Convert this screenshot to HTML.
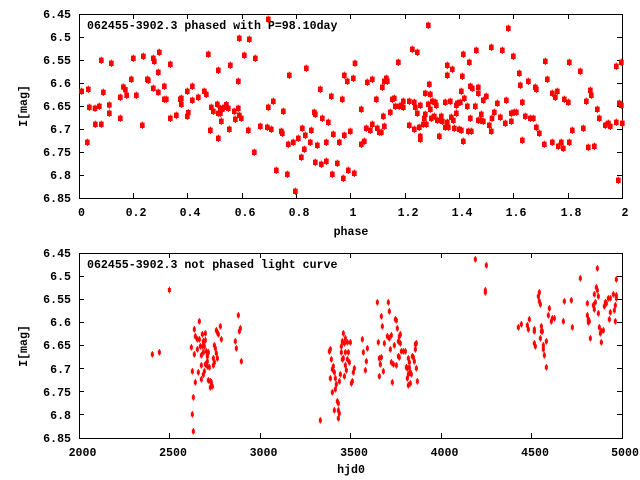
<!DOCTYPE html>
<html><head><meta charset="utf-8">
<style>
html,body{margin:0;padding:0;background:#fff;}
svg{display:block;}
text{font-family:"Liberation Mono",monospace;font-weight:bold;font-size:11.6px;fill:#000;}
</style></head>
<body>
<svg width="640" height="480" viewBox="0 0 640 480" xmlns="http://www.w3.org/2000/svg">
<defs>
<path id="mt" d="M-7,-8h14v16h-14z M-1.5,-11h3v22h-3z" fill="#ff0000"/>
<path id="mb" d="M-4.5,-6h9v12h-9z M-1.5,-10h3v20h-3z" fill="#ff0000"/>
</defs>
<rect width="640" height="480" fill="#fff"/>

<!-- ===== TOP PLOT FRAME ===== -->
<g stroke="#000" stroke-width="1" fill="none" shape-rendering="crispEdges">
<rect x="79.5" y="14.5" width="543" height="184"/>
<path d="M79,37.5h5M79,60.5h5M79,83.5h5M79,106.5h5M79,129.5h5M79,152.5h5M79,175.5h5
M622,37.5h-5M622,60.5h-5M622,83.5h-5M622,106.5h-5M622,129.5h-5M622,152.5h-5M622,175.5h-5
M133.5,198v-5M187.5,198v-5M242.5,198v-5M296.5,198v-5M350.5,198v-5M405.5,198v-5M459.5,198v-5M513.5,198v-5M568.5,198v-5
M133.5,14v5M187.5,14v5M242.5,14v5M296.5,14v5M350.5,14v5M405.5,14v5M459.5,14v5M513.5,14v5M568.5,14v5"/>
</g>
<g text-anchor="end">
<text x="71" y="18">6.45</text>
<text x="71" y="41">6.5</text>
<text x="71" y="64">6.55</text>
<text x="71" y="87">6.6</text>
<text x="71" y="110">6.65</text>
<text x="71" y="133">6.7</text>
<text x="71" y="156">6.75</text>
<text x="71" y="179">6.8</text>
<text x="71" y="202">6.85</text>
</g>
<g text-anchor="middle">
<text x="81.5" y="216">0</text>
<text x="136" y="216">0.2</text>
<text x="190" y="216">0.4</text>
<text x="245" y="216">0.6</text>
<text x="299" y="216">0.8</text>
<text x="353" y="216">1</text>
<text x="408" y="216">1.2</text>
<text x="462" y="216">1.4</text>
<text x="516" y="216">1.6</text>
<text x="571" y="216">1.8</text>
<text x="625" y="216">2</text>
<text x="351" y="235">phase</text>
<text transform="translate(27,106) rotate(-90)">I[mag]</text>
</g>
<text x="87" y="29">062455-3902.3 phased with P=98.10day</text>

<!-- top plot points -->
<g transform="translate(79,14) scale(0.33333)">
<use href="#mt" x="8" y="232"/><use href="#mt" x="28" y="226"/><use href="#mt" x="25" y="385"/><use href="#mt" x="31" y="280"/><use href="#mt" x="48" y="283"/><use href="#mt" x="49" y="331"/><use href="#mt" x="61" y="277"/><use href="#mt" x="67" y="331"/><use href="#mt" x="67" y="139"/><use href="#mt" x="73" y="235"/><use href="#mt" x="91" y="273"/><use href="#mt" x="91" y="298"/><use href="#mt" x="97" y="148"/><use href="#mt" x="124" y="250"/><use href="#mt" x="124" y="313"/><use href="#mt" x="133" y="219"/><use href="#mt" x="139" y="227"/><use href="#mt" x="143" y="244"/><use href="#mt" x="157" y="196"/><use href="#mt" x="163" y="133"/><use href="#mt" x="172" y="244"/><use href="#mt" x="190" y="334"/><use href="#mt" x="193" y="127"/><use href="#mt" x="205" y="196"/><use href="#mt" x="208" y="199"/><use href="#mt" x="223" y="133"/><use href="#mt" x="226" y="142"/><use href="#mt" x="223" y="223"/><use href="#mt" x="238" y="175"/><use href="#mt" x="238" y="235"/><use href="#mt" x="241" y="115"/><use href="#mt" x="256" y="217"/><use href="#mt" x="256" y="256"/><use href="#mt" x="262" y="256"/><use href="#mt" x="274" y="151"/><use href="#mt" x="274" y="313"/><use href="#mt" x="292" y="304"/><use href="#mt" x="304" y="256"/><use href="#mt" x="307" y="253"/><use href="#mt" x="307" y="271"/><use href="#mt" x="325" y="232"/><use href="#mt" x="325" y="307"/><use href="#mt" x="328" y="296"/><use href="#mt" x="340" y="259"/><use href="#mt" x="340" y="217"/><use href="#mt" x="358" y="250"/><use href="#mt" x="376" y="232"/><use href="#mt" x="382" y="241"/><use href="#mt" x="388" y="121"/><use href="#mt" x="394" y="349"/><use href="#mt" x="397" y="280"/><use href="#mt" x="403" y="292"/><use href="#mt" x="415" y="271"/><use href="#mt" x="418" y="373"/><use href="#mt" x="418" y="169"/><use href="#mt" x="418" y="298"/>
</g>
<g transform="translate(215,14) scale(0.33333)">
<use href="#mt" x="16" y="283"/><use href="#mt" x="16" y="298"/><use href="#mt" x="19" y="322"/><use href="#mt" x="22" y="286"/><use href="#mt" x="28" y="280"/><use href="#mt" x="34" y="272"/><use href="#mt" x="40" y="283"/><use href="#mt" x="43" y="346"/><use href="#mt" x="46" y="154"/><use href="#mt" x="58" y="292"/><use href="#mt" x="61" y="316"/><use href="#mt" x="70" y="202"/><use href="#mt" x="70" y="283"/><use href="#mt" x="73" y="73"/><use href="#mt" x="73" y="304"/><use href="#mt" x="79" y="313"/><use href="#mt" x="88" y="124"/><use href="#mt" x="100" y="349"/><use href="#mt" x="103" y="76"/><use href="#mt" x="118" y="415"/><use href="#mt" x="121" y="133"/><use href="#mt" x="136" y="337"/><use href="#mt" x="157" y="340"/><use href="#mt" x="160" y="16"/><use href="#mt" x="160" y="280"/><use href="#mt" x="169" y="346"/><use href="#mt" x="175" y="262"/><use href="#mt" x="184" y="469"/><use href="#mt" x="199" y="352"/><use href="#mt" x="202" y="358"/><use href="#mt" x="205" y="292"/><use href="#mt" x="217" y="481"/><use href="#mt" x="220" y="391"/><use href="#mt" x="223" y="184"/><use href="#mt" x="235" y="385"/><use href="#mt" x="241" y="532"/><use href="#mt" x="250" y="373"/><use href="#mt" x="259" y="430"/><use href="#mt" x="262" y="343"/><use href="#mt" x="268" y="406"/><use href="#mt" x="271" y="364"/><use href="#mt" x="274" y="163"/><use href="#mt" x="286" y="385"/><use href="#mt" x="289" y="349"/><use href="#mt" x="298" y="295"/><use href="#mt" x="301" y="301"/><use href="#mt" x="301" y="445"/><use href="#mt" x="307" y="394"/><use href="#mt" x="316" y="226"/><use href="#mt" x="319" y="451"/><use href="#mt" x="322" y="313"/><use href="#mt" x="334" y="385"/><use href="#mt" x="334" y="442"/><use href="#mt" x="340" y="325"/><use href="#mt" x="349" y="247"/><use href="#mt" x="352" y="481"/><use href="#mt" x="355" y="361"/><use href="#mt" x="367" y="448"/><use href="#mt" x="373" y="385"/><use href="#mt" x="382" y="256"/><use href="#mt" x="385" y="493"/><use href="#mt" x="388" y="184"/><use href="#mt" x="388" y="364"/><use href="#mt" x="397" y="202"/><use href="#mt" x="400" y="469"/><use href="#mt" x="406" y="352"/><use href="#mt" x="415" y="193"/><use href="#mt" x="418" y="478"/><use href="#mt" x="420" y="148"/>
</g>
<g transform="translate(352,14) scale(0.33333)">
<use href="#mt" x="28" y="286"/><use href="#mt" x="28" y="391"/><use href="#mt" x="37" y="382"/><use href="#mt" x="43" y="343"/><use href="#mt" x="46" y="205"/><use href="#mt" x="55" y="349"/><use href="#mt" x="61" y="196"/><use href="#mt" x="61" y="331"/><use href="#mt" x="73" y="256"/><use href="#mt" x="76" y="343"/><use href="#mt" x="82" y="355"/><use href="#mt" x="88" y="355"/><use href="#mt" x="91" y="220"/><use href="#mt" x="94" y="307"/><use href="#mt" x="97" y="337"/><use href="#mt" x="97" y="202"/><use href="#mt" x="103" y="193"/><use href="#mt" x="106" y="202"/><use href="#mt" x="115" y="295"/><use href="#mt" x="121" y="256"/><use href="#mt" x="127" y="253"/><use href="#mt" x="130" y="277"/><use href="#mt" x="139" y="145"/><use href="#mt" x="142" y="277"/><use href="#mt" x="148" y="274"/><use href="#mt" x="154" y="262"/><use href="#mt" x="154" y="280"/><use href="#mt" x="172" y="262"/><use href="#mt" x="172" y="334"/><use href="#mt" x="181" y="106"/><use href="#mt" x="187" y="346"/><use href="#mt" x="187" y="265"/><use href="#mt" x="190" y="280"/><use href="#mt" x="196" y="115"/><use href="#mt" x="196" y="298"/><use href="#mt" x="202" y="340"/><use href="#mt" x="205" y="274"/><use href="#mt" x="205" y="367"/><use href="#mt" x="205" y="376"/><use href="#mt" x="214" y="331"/><use href="#mt" x="217" y="313"/><use href="#mt" x="220" y="301"/><use href="#mt" x="220" y="238"/><use href="#mt" x="223" y="331"/><use href="#mt" x="229" y="34"/><use href="#mt" x="229" y="271"/><use href="#mt" x="232" y="211"/><use href="#mt" x="235" y="241"/><use href="#mt" x="235" y="286"/><use href="#mt" x="238" y="313"/><use href="#mt" x="241" y="262"/><use href="#mt" x="247" y="307"/><use href="#mt" x="250" y="265"/><use href="#mt" x="253" y="274"/><use href="#mt" x="256" y="319"/><use href="#mt" x="262" y="367"/><use href="#mt" x="265" y="319"/><use href="#mt" x="268" y="307"/><use href="#mt" x="271" y="322"/><use href="#mt" x="280" y="265"/><use href="#mt" x="280" y="340"/><use href="#mt" x="286" y="154"/><use href="#mt" x="286" y="184"/><use href="#mt" x="286" y="325"/><use href="#mt" x="289" y="340"/><use href="#mt" x="295" y="262"/><use href="#mt" x="298" y="310"/><use href="#mt" x="301" y="166"/><use href="#mt" x="304" y="319"/><use href="#mt" x="307" y="343"/><use href="#mt" x="313" y="298"/><use href="#mt" x="313" y="274"/><use href="#mt" x="316" y="268"/><use href="#mt" x="322" y="346"/><use href="#mt" x="325" y="265"/><use href="#mt" x="328" y="232"/><use href="#mt" x="328" y="349"/><use href="#mt" x="334" y="382"/><use href="#mt" x="334" y="121"/><use href="#mt" x="331" y="187"/><use href="#mt" x="337" y="253"/><use href="#mt" x="346" y="277"/><use href="#mt" x="349" y="352"/><use href="#mt" x="352" y="145"/><use href="#mt" x="355" y="313"/><use href="#mt" x="355" y="217"/><use href="#mt" x="358" y="352"/><use href="#mt" x="361" y="223"/><use href="#mt" x="370" y="277"/><use href="#mt" x="373" y="109"/><use href="#mt" x="379" y="220"/><use href="#mt" x="379" y="238"/><use href="#mt" x="379" y="319"/><use href="#mt" x="385" y="319"/><use href="#mt" x="388" y="301"/><use href="#mt" x="394" y="322"/><use href="#mt" x="394" y="259"/><use href="#mt" x="403" y="247"/><use href="#mt" x="412" y="334"/><use href="#mt" x="418" y="100"/><use href="#mt" x="418" y="352"/><use href="#mt" x="420" y="313"/>
</g>
<g transform="translate(488,14) scale(0.33333)">
<use href="#mt" x="19" y="295"/><use href="#mt" x="28" y="268"/><use href="#mt" x="37" y="310"/><use href="#mt" x="43" y="109"/><use href="#mt" x="52" y="328"/><use href="#mt" x="55" y="259"/><use href="#mt" x="61" y="43"/><use href="#mt" x="70" y="298"/><use href="#mt" x="70" y="322"/><use href="#mt" x="76" y="127"/><use href="#mt" x="79" y="295"/><use href="#mt" x="85" y="295"/><use href="#mt" x="94" y="178"/><use href="#mt" x="97" y="214"/><use href="#mt" x="103" y="265"/><use href="#mt" x="103" y="379"/><use href="#mt" x="112" y="307"/><use href="#mt" x="121" y="202"/><use href="#mt" x="127" y="313"/><use href="#mt" x="136" y="313"/><use href="#mt" x="142" y="220"/><use href="#mt" x="145" y="340"/><use href="#mt" x="145" y="226"/><use href="#mt" x="154" y="358"/><use href="#mt" x="169" y="391"/><use href="#mt" x="172" y="142"/><use href="#mt" x="178" y="196"/><use href="#mt" x="193" y="238"/><use href="#mt" x="193" y="385"/><use href="#mt" x="202" y="250"/><use href="#mt" x="208" y="232"/><use href="#mt" x="211" y="397"/><use href="#mt" x="220" y="385"/><use href="#mt" x="226" y="403"/><use href="#mt" x="229" y="256"/><use href="#mt" x="241" y="265"/><use href="#mt" x="244" y="145"/><use href="#mt" x="244" y="385"/><use href="#mt" x="253" y="349"/><use href="#mt" x="277" y="172"/><use href="#mt" x="286" y="343"/><use href="#mt" x="295" y="262"/><use href="#mt" x="301" y="400"/><use href="#mt" x="307" y="229"/><use href="#mt" x="310" y="244"/><use href="#mt" x="319" y="397"/><use href="#mt" x="328" y="286"/><use href="#mt" x="334" y="313"/><use href="#mt" x="352" y="334"/><use href="#mt" x="361" y="328"/><use href="#mt" x="367" y="337"/><use href="#mt" x="385" y="325"/><use href="#mt" x="385" y="157"/><use href="#mt" x="391" y="499"/><use href="#mt" x="394" y="268"/><use href="#mt" x="400" y="145"/><use href="#mt" x="400" y="274"/><use href="#mt" x="403" y="328"/>
</g>

<!-- ===== BOTTOM PLOT FRAME ===== -->
<g stroke="#000" stroke-width="1" fill="none" shape-rendering="crispEdges">
<rect x="79.5" y="253.5" width="543" height="185"/>
<path d="M79,276.5h5M79,299.5h5M79,322.5h5M79,345.5h5M79,368.5h5M79,391.5h5M79,414.5h5
M622,276.5h-5M622,299.5h-5M622,322.5h-5M622,345.5h-5M622,368.5h-5M622,391.5h-5M622,414.5h-5
M169.5,438v-5M260.5,438v-5M350.5,438v-5M441.5,438v-5M531.5,438v-5
M169.5,253v5M260.5,253v5M350.5,253v5M441.5,253v5M531.5,253v5"/>
</g>
<g text-anchor="end">
<text x="71" y="257">6.45</text>
<text x="71" y="280">6.5</text>
<text x="71" y="303">6.55</text>
<text x="71" y="326">6.6</text>
<text x="71" y="349">6.65</text>
<text x="71" y="373">6.7</text>
<text x="71" y="396">6.75</text>
<text x="71" y="419">6.8</text>
<text x="71" y="442">6.85</text>
</g>
<g text-anchor="middle">
<text x="82.5" y="456">2000</text>
<text x="173" y="456">2500</text>
<text x="263.5" y="456">3000</text>
<text x="354" y="456">3500</text>
<text x="444.5" y="456">4000</text>
<text x="535" y="456">4500</text>
<text x="625" y="456">5000</text>
<text x="351" y="473">hjd0</text>
<text transform="translate(27,346) rotate(-90)">I[mag]</text>
</g>
<text x="87" y="268">062455-3902.3 not phased light curve</text>

<!-- bottom plot points -->
<g transform="translate(145,253) scale(0.33333)">
<use href="#mb" x="73" y="111"/><use href="#mb" x="22" y="304"/><use href="#mb" x="43" y="298"/><use href="#mb" x="139" y="283"/><use href="#mb" x="142" y="355"/><use href="#mb" x="145" y="433"/><use href="#mb" x="142" y="484"/><use href="#mb" x="145" y="535"/><use href="#mb" x="148" y="229"/><use href="#mb" x="148" y="304"/><use href="#mb" x="151" y="250"/><use href="#mb" x="151" y="388"/><use href="#mb" x="157" y="259"/><use href="#mb" x="157" y="289"/><use href="#mb" x="160" y="358"/><use href="#mb" x="163" y="205"/><use href="#mb" x="163" y="259"/><use href="#mb" x="166" y="280"/><use href="#mb" x="169" y="307"/><use href="#mb" x="169" y="379"/><use href="#mb" x="169" y="337"/><use href="#mb" x="172" y="244"/><use href="#mb" x="172" y="280"/><use href="#mb" x="175" y="265"/><use href="#mb" x="175" y="298"/><use href="#mb" x="178" y="280"/><use href="#mb" x="181" y="241"/><use href="#mb" x="181" y="262"/><use href="#mb" x="181" y="334"/><use href="#mb" x="184" y="295"/><use href="#mb" x="187" y="310"/><use href="#mb" x="187" y="325"/><use href="#mb" x="187" y="340"/><use href="#mb" x="190" y="382"/><use href="#mb" x="193" y="343"/><use href="#mb" x="196" y="385"/><use href="#mb" x="196" y="403"/><use href="#mb" x="199" y="388"/><use href="#mb" x="202" y="400"/><use href="#mb" x="205" y="316"/><use href="#mb" x="205" y="337"/><use href="#mb" x="208" y="277"/><use href="#mb" x="208" y="328"/><use href="#mb" x="211" y="286"/><use href="#mb" x="214" y="301"/><use href="#mb" x="214" y="232"/><use href="#mb" x="217" y="238"/><use href="#mb" x="217" y="316"/><use href="#mb" x="220" y="244"/><use href="#mb" x="226" y="220"/><use href="#mb" x="229" y="259"/><use href="#mb" x="271" y="265"/><use href="#mb" x="274" y="286"/><use href="#mb" x="280" y="187"/><use href="#mb" x="283" y="235"/><use href="#mb" x="286" y="226"/><use href="#mb" x="289" y="325"/><use href="#mb" x="178" y="355"/><use href="#mb" x="190" y="298"/><use href="#mb" x="175" y="365"/>
</g>
<g transform="translate(295,253) scale(0.33333)">
<use href="#mb" x="76" y="502"/><use href="#mb" x="103" y="295"/><use href="#mb" x="106" y="289"/><use href="#mb" x="109" y="319"/><use href="#mb" x="106" y="376"/><use href="#mb" x="112" y="349"/><use href="#mb" x="112" y="418"/><use href="#mb" x="115" y="340"/><use href="#mb" x="118" y="358"/><use href="#mb" x="118" y="472"/><use href="#mb" x="121" y="376"/><use href="#mb" x="121" y="409"/><use href="#mb" x="124" y="394"/><use href="#mb" x="127" y="445"/><use href="#mb" x="130" y="451"/><use href="#mb" x="130" y="472"/><use href="#mb" x="130" y="496"/><use href="#mb" x="133" y="481"/><use href="#mb" x="133" y="385"/><use href="#mb" x="136" y="364"/><use href="#mb" x="139" y="280"/><use href="#mb" x="139" y="298"/><use href="#mb" x="142" y="265"/><use href="#mb" x="142" y="319"/><use href="#mb" x="145" y="241"/><use href="#mb" x="145" y="316"/><use href="#mb" x="148" y="271"/><use href="#mb" x="148" y="370"/><use href="#mb" x="151" y="256"/><use href="#mb" x="151" y="298"/><use href="#mb" x="151" y="337"/><use href="#mb" x="154" y="352"/><use href="#mb" x="157" y="319"/><use href="#mb" x="157" y="268"/><use href="#mb" x="160" y="298"/><use href="#mb" x="163" y="328"/><use href="#mb" x="166" y="268"/><use href="#mb" x="169" y="391"/><use href="#mb" x="172" y="385"/><use href="#mb" x="175" y="358"/><use href="#mb" x="178" y="346"/><use href="#mb" x="202" y="259"/><use href="#mb" x="205" y="298"/><use href="#mb" x="211" y="352"/><use href="#mb" x="214" y="325"/><use href="#mb" x="217" y="286"/><use href="#mb" x="247" y="148"/><use href="#mb" x="250" y="268"/><use href="#mb" x="253" y="316"/><use href="#mb" x="253" y="370"/><use href="#mb" x="256" y="334"/><use href="#mb" x="259" y="190"/><use href="#mb" x="259" y="313"/><use href="#mb" x="262" y="220"/><use href="#mb" x="265" y="355"/><use href="#mb" x="268" y="271"/><use href="#mb" x="277" y="250"/><use href="#mb" x="280" y="148"/><use href="#mb" x="283" y="175"/><use href="#mb" x="283" y="256"/><use href="#mb" x="286" y="289"/><use href="#mb" x="289" y="328"/><use href="#mb" x="289" y="247"/><use href="#mb" x="292" y="388"/><use href="#mb" x="295" y="334"/><use href="#mb" x="298" y="277"/><use href="#mb" x="301" y="199"/><use href="#mb" x="304" y="337"/><use href="#mb" x="304" y="202"/><use href="#mb" x="307" y="226"/><use href="#mb" x="310" y="265"/><use href="#mb" x="310" y="310"/><use href="#mb" x="313" y="250"/><use href="#mb" x="313" y="313"/><use href="#mb" x="316" y="244"/><use href="#mb" x="316" y="271"/><use href="#mb" x="319" y="295"/><use href="#mb" x="325" y="295"/><use href="#mb" x="331" y="295"/><use href="#mb" x="334" y="343"/><use href="#mb" x="337" y="346"/><use href="#mb" x="340" y="316"/><use href="#mb" x="340" y="397"/><use href="#mb" x="343" y="328"/><use href="#mb" x="346" y="391"/><use href="#mb" x="346" y="358"/><use href="#mb" x="349" y="364"/><use href="#mb" x="352" y="310"/><use href="#mb" x="355" y="313"/><use href="#mb" x="358" y="325"/><use href="#mb" x="361" y="289"/><use href="#mb" x="361" y="274"/><use href="#mb" x="364" y="271"/><use href="#mb" x="364" y="346"/><use href="#mb" x="367" y="385"/><use href="#mb" x="340" y="364"/><use href="#mb" x="337" y="376"/><use href="#mb" x="343" y="343"/>
</g>
<g transform="translate(462,253) scale(0.33333)">
<use href="#mb" x="40" y="19"/><use href="#mb" x="73" y="37"/><use href="#mb" x="70" y="112"/><use href="#mb" x="70" y="118"/><use href="#mb" x="169" y="223"/><use href="#mb" x="178" y="214"/><use href="#mb" x="196" y="217"/><use href="#mb" x="199" y="229"/><use href="#mb" x="202" y="199"/><use href="#mb" x="217" y="229"/><use href="#mb" x="217" y="235"/><use href="#mb" x="217" y="271"/><use href="#mb" x="220" y="280"/><use href="#mb" x="229" y="130"/><use href="#mb" x="232" y="118"/><use href="#mb" x="232" y="145"/><use href="#mb" x="235" y="154"/><use href="#mb" x="235" y="256"/><use href="#mb" x="238" y="220"/><use href="#mb" x="238" y="235"/><use href="#mb" x="241" y="235"/><use href="#mb" x="244" y="277"/><use href="#mb" x="244" y="289"/><use href="#mb" x="247" y="307"/><use href="#mb" x="253" y="265"/><use href="#mb" x="253" y="343"/><use href="#mb" x="259" y="187"/><use href="#mb" x="262" y="166"/><use href="#mb" x="268" y="205"/><use href="#mb" x="271" y="196"/><use href="#mb" x="277" y="196"/><use href="#mb" x="304" y="205"/><use href="#mb" x="307" y="145"/><use href="#mb" x="328" y="142"/><use href="#mb" x="331" y="223"/><use href="#mb" x="355" y="76"/><use href="#mb" x="376" y="151"/><use href="#mb" x="376" y="187"/><use href="#mb" x="379" y="199"/><use href="#mb" x="379" y="208"/><use href="#mb" x="382" y="205"/><use href="#mb" x="385" y="256"/><use href="#mb" x="394" y="157"/><use href="#mb" x="397" y="124"/><use href="#mb" x="397" y="169"/><use href="#mb" x="400" y="148"/><use href="#mb" x="403" y="103"/><use href="#mb" x="406" y="46"/><use href="#mb" x="406" y="112"/><use href="#mb" x="409" y="181"/><use href="#mb" x="409" y="130"/><use href="#mb" x="412" y="223"/><use href="#mb" x="415" y="241"/><use href="#mb" x="418" y="268"/><use href="#mb" x="418" y="235"/><use href="#mb" x="424" y="232"/><use href="#mb" x="427" y="160"/><use href="#mb" x="430" y="148"/><use href="#mb" x="433" y="151"/><use href="#mb" x="439" y="136"/><use href="#mb" x="442" y="199"/><use href="#mb" x="445" y="178"/><use href="#mb" x="445" y="136"/><use href="#mb" x="454" y="124"/><use href="#mb" x="457" y="172"/><use href="#mb" x="460" y="157"/><use href="#mb" x="460" y="205"/><use href="#mb" x="463" y="127"/><use href="#mb" x="463" y="136"/><use href="#mb" x="463" y="79"/>
</g>
</svg>
</body></html>
